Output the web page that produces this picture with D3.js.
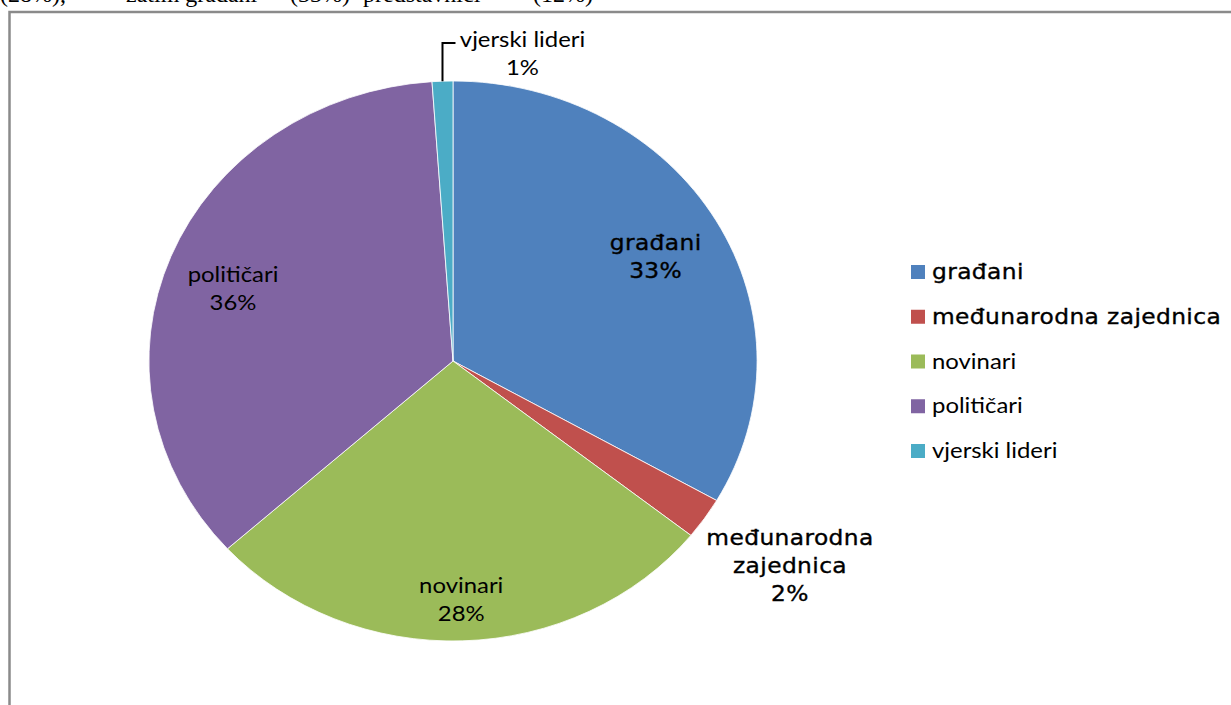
<!DOCTYPE html>
<html lang='hr'>
<head>
  <meta charset='UTF-8'>
  <title>Pie</title>
  <script src='https://d3js.org/d3.v7.min.js'></script>
  <style>
    html, body { margin: 0; padding: 0; background: #fff; overflow: hidden; }
    #main { width: 1231px; height: 705px; }
  </style>
</head>
<body>
<div id='main'></div>
<script>
  // podaci
  const categories = ['građani', 'međunarodna zajednica', 'novinari', 'političari', 'vjerski lideri']
  const values = [33.3, 2.4, 27.6, 35.6, 1.1]
  const colors = ['#4F81BD', '#C0504D', '#9BBB59', '#8064A2', '#4BACC6']
  // tekst iznad grafikona (odsječen)
  const topTexts = ['(28%),', 'zatim građani', '(33%)', 'predstavnici', '(12%)']

  const width = 1231
  const height = 705
  const sx = 1.086 // slika je razvučena vodoravno
  const cx = 453
  const cy = 361
  const radius = 280

  // fontovi: prve dvije kategorije su u Verdani, ostale u Calibriju
  const fontOf = i => i < 2 ? 'DejaVu Sans' : 'Lato'
  const sizeOf = i => i < 2 ? 21.5 : 22
  const spacingOf = i => i < 2 ? 0.35 : 0
  // položaj natpisa (udio radijusa) i pomak po visini
  const labelK = [0.77, 1.34, 0.86, 0.78, 1.0]
  const labelDy = [4, -6, -2, 10, -6]

  const svg = d3.select('#main').append('svg')
    .attr('width', width)
    .attr('height', height)

  // odsječeni tekst na vrhu
  const topX = [0, 126, 290, 363, 533]
  svg.append('g').selectAll('text')
    .data(topTexts)
    .enter().append('text')
    .attr('x', (d, i) => topX[i])
    .attr('y', 2)
    .style('font-family', 'Liberation Serif')
    .style('font-size', '24px')
    .attr('fill', '#000')
    .text(d => d)

  // okvir grafikona
  svg.append('rect')
    .attr('x', 9.5)
    .attr('y', 12)
    .attr('width', width + 20)
    .attr('height', height + 20)
    .attr('fill', '#fff')
    .attr('stroke', '#8a8a8a')
    .attr('stroke-width', 2.5)

  const pie = d3.pie().sort(null).value(d => d)
  const arcs = pie(values)
  const arc = d3.arc().innerRadius(0).outerRadius(radius)

  const pieG = svg.append('g')
    .attr('transform', `translate(${cx},${cy}) scale(${sx},1)`)
  pieG.selectAll('path')
    .data(arcs)
    .enter().append('path')
    .attr('d', arc)
    .attr('fill', (d, i) => colors[i])
    .attr('stroke', '#fff')
    .attr('stroke-width', 0.8)
    .attr('vector-effect', 'non-scaling-stroke')

  function addText (parent, x, y, str, i, anchor) {
    parent.append('text')
      .attr('transform', `translate(${x},${y}) scale(${sx},1)`)
      .attr('text-anchor', anchor || 'middle')
      .style('font-family', fontOf(i))
      .style('font-size', sizeOf(i) + 'px')
      .style('letter-spacing', spacingOf(i) + 'px')
      .attr('fill', '#000')
      .attr('stroke', i < 2 ? '#000' : 'none')
      .attr('stroke-width', 0.35)
      .text(str)
  }

  // natpisi
  const labelG = svg.append('g')
  arcs.forEach((d, i) => {
    const mid = (d.startAngle + d.endAngle) / 2
    const r = radius * labelK[i]
    let x = cx + Math.sin(mid) * r * sx
    let y = cy - Math.cos(mid) * r
    const pct = Math.round(values[i]) + '%'
    let lines = i === 1 ? ['međunarodna', 'zajednica', pct] : [categories[i], pct]
    if (i === 4) {
      // vodilica do natpisa iznad grafikona
      labelG.append('path')
        .attr('d', `M${x},${y}V${43}H${x + 13}`)
        .attr('fill', 'none')
        .attr('stroke', '#000')
        .attr('stroke-width', 2)
      x = x + 80
      y = 60
    }
    const lh = 28
    const top = y + labelDy[i] - (lines.length - 1) * lh / 2 + 7
    lines.forEach((t, j) => addText(labelG, x, top + j * lh, t, i))
  })

  // legenda
  const legend = svg.append('g')
  const ly = d3.scaleLinear().domain([0, categories.length - 1]).range([272, 451])
  categories.forEach((c, i) => {
    legend.append('rect')
      .attr('x', 911)
      .attr('y', ly(i) - 7)
      .attr('width', 14)
      .attr('height', 14)
      .attr('fill', colors[i])
    addText(legend, 932, ly(i) + 7, c, i, 'start')
  })
</script>
</body>
</html>
